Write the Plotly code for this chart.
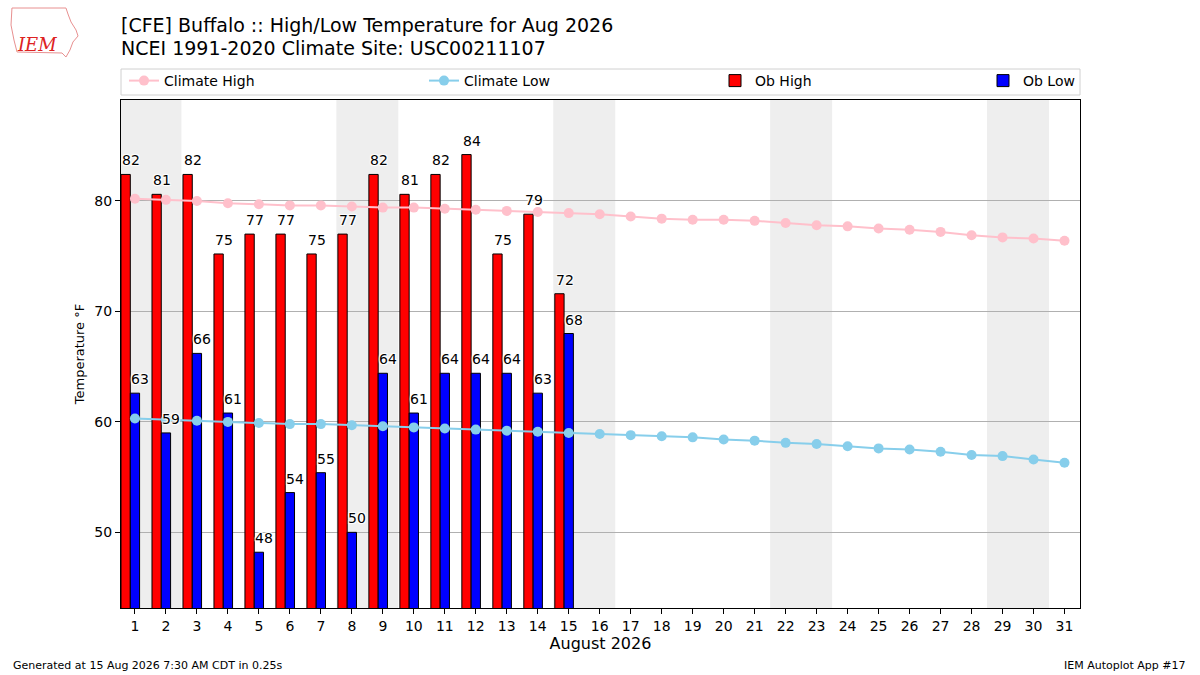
import datetime
import numpy as np
import plotly.graph_objects as go

# observed values (whole C converted to F) for Aug 1..15
days = list(range(1, 32))
ob_days = list(range(1, 16))
ob_high = [82.4, 80.6, 82.4, 75.2, 77.0, 77.0, 75.2, 77.0, 82.4, 80.6, 82.4, 84.2, 75.2, 78.8, 71.6]
ob_low = [62.6, 59.0, 66.2, 60.8, 48.2, 53.6, 55.4, 50.0, 64.4, 60.8, 64.4, 64.4, 64.4, 62.6, 68.0]

# NCEI 1991-2020 daily climatology
clim_high = [80.2, 80.1, 80.0, 79.8, 79.7, 79.6, 79.6, 79.5, 79.4, 79.4, 79.3, 79.2, 79.1, 79.0, 78.9, 78.8,
             78.6, 78.4, 78.3, 78.3, 78.2, 78.0, 77.8, 77.7, 77.5, 77.4, 77.2, 76.9, 76.7, 76.6, 76.4]
clim_low = [60.3, 60.2, 60.1, 60.0, 59.9, 59.8, 59.8, 59.7, 59.6, 59.5, 59.4, 59.3, 59.2, 59.1, 59.0, 58.9,
            58.8, 58.7, 58.6, 58.4, 58.3, 58.1, 58.0, 57.8, 57.6, 57.5, 57.3, 57.0, 56.9, 56.6, 56.3]

year, month = 2026, 8

# plot area in pixels: x 121..1080, y 100..608
def px(x):
    return (x - 121) / 959.0

def py(y):
    return (608 - y) / 508.0

fig = go.Figure()

bar_w = 0.3
fig.add_trace(go.Bar(
    x=ob_days, y=ob_high, width=bar_w, offset=-0.45, name='Ob High',
    marker=dict(color='#ff0000', line=dict(color='black', width=1)),
    legend='legend3'
))
fig.add_trace(go.Bar(
    x=ob_days, y=ob_low, width=bar_w, offset=-0.15, name='Ob Low',
    marker=dict(color='#0000ff', line=dict(color='black', width=1)),
    legend='legend4'
))
fig.add_trace(go.Scatter(
    x=days, y=clim_high, mode='lines+markers', name='Climate High',
    line=dict(color='#ffc0cb', width=2), marker=dict(size=10, color='#ffc0cb'),
    legend='legend'
))
fig.add_trace(go.Scatter(
    x=days, y=clim_low, mode='lines+markers', name='Climate Low',
    line=dict(color='#87ceeb', width=2), marker=dict(size=10, color='#87ceeb'),
    legend='legend2'
))

# value labels, left aligned on each bar's left edge
halo = '1px 1px 1px white, -1px -1px 1px white, 1px -1px 1px white, -1px 1px 1px white'
for d, hi, lo in zip(ob_days, ob_high, ob_low):
    for xx, val in ((d - 0.45, hi), (d - 0.15, lo)):
        fig.add_annotation(
            x=xx, y=val, text=f'{val:.0f}', showarrow=False,
            xanchor='left', yanchor='bottom', yshift=4, xshift=-1,
            font=dict(size=14, color='black', shadow=halo)
        )

# weekend shading
for d in days:
    if datetime.date(year, month, d).weekday() == 5:
        fig.add_shape(type='rect', xref='x', yref='paper', x0=d - 0.5, x1=d + 1.5, y0=0, y1=1,
                      fillcolor='#eeeeee', line_width=0, layer='below')

# legend frame
fig.add_shape(type='rect', xref='paper', yref='paper', x0=0, x1=1, y0=py(95), y1=py(69),
              line=dict(color='#d0d0d0', width=1), fillcolor='rgba(0,0,0,0)')

# title lines
fig.add_annotation(xref='paper', yref='paper', x=px(119), y=py(25), xanchor='left', yanchor='middle',
                   text='[CFE] Buffalo :: High/Low Temperature for Aug 2026', showarrow=False,
                   font=dict(size=19, color='black'))
fig.add_annotation(xref='paper', yref='paper', x=px(119), y=py(48), xanchor='left', yanchor='middle',
                   text='NCEI 1991-2020 Climate Site: USC00211107', showarrow=False,
                   font=dict(size=19, color='black'))

# footer
fig.add_annotation(xref='paper', yref='paper', x=px(11), y=py(665), xanchor='left', yanchor='middle',
                   text='Generated at 15 Aug 2026 7:30 AM CDT in 0.25s', showarrow=False,
                   font=dict(size=11, color='black'))
fig.add_annotation(xref='paper', yref='paper', x=px(1188), y=py(665), xanchor='right', yanchor='middle',
                   text='IEM Autoplot App #17', showarrow=False,
                   font=dict(size=11, color='black'))

# rough IEM logo
outline = [(12, 8), (66, 8), (68, 14), (71, 22), (76, 30), (78, 36), (73, 42), (70, 50),
           (66, 57), (62, 53), (17, 52), (14, 40), (11, 25)]
path = 'M ' + ' L '.join(f'{px(a):.4f},{py(b):.4f}' for a, b in outline) + ' Z'
fig.add_shape(type='path', xref='paper', yref='paper', path=path,
              line=dict(color='#e89090', width=1), fillcolor='rgba(0,0,0,0)')
fig.add_annotation(xref='paper', yref='paper', x=px(37), y=py(45), xanchor='center', yanchor='middle',
                   text='<i>IEM</i>', showarrow=False,
                   font=dict(size=18, color='#dd2222', family='DejaVu Serif'))

leg = dict(orientation='h', yanchor='middle', y=py(81), xanchor='left',
           bgcolor='rgba(0,0,0,0)', font=dict(size=14, color='black'))

fig.update_layout(
    width=1200, height=675,
    margin=dict(l=121, r=120, t=100, b=67),
    paper_bgcolor='white', plot_bgcolor='white',
    font=dict(family='DejaVu Sans', size=14, color='black'),
    barmode='overlay',
    showlegend=True,
    legend=dict(leg, x=px(124)),
    legend2=dict(leg, x=px(424)),
    legend3=dict(leg, x=px(715)),
    legend4=dict(leg, x=px(983)),
    xaxis=dict(
        range=[0.55, 31.5], tickvals=days, ticktext=[str(d) for d in days],
        ticks='outside', ticklen=5, tickcolor='black', showgrid=False, zeroline=False,
        showline=True, linecolor='black', linewidth=1, mirror=True,
        title=dict(text='August 2026', font=dict(size=16), standoff=5),
        tickfont=dict(size=14)
    ),
    yaxis=dict(
        range=[43.15, 89.14], tickvals=[50, 60, 70, 80],
        ticks='outside', ticklen=5, tickcolor='black', showgrid=True, gridcolor='#b0b0b0', gridwidth=1,
        zeroline=False, showline=True, linecolor='black', linewidth=1, mirror=True,
        title=dict(text='Temperature °F', font=dict(size=13), standoff=6),
        tickfont=dict(size=14)
    ),
)

fig.write_html('out.html', config={'displayModeBar': False},
               post_script="document.body.style.margin='0px';")
